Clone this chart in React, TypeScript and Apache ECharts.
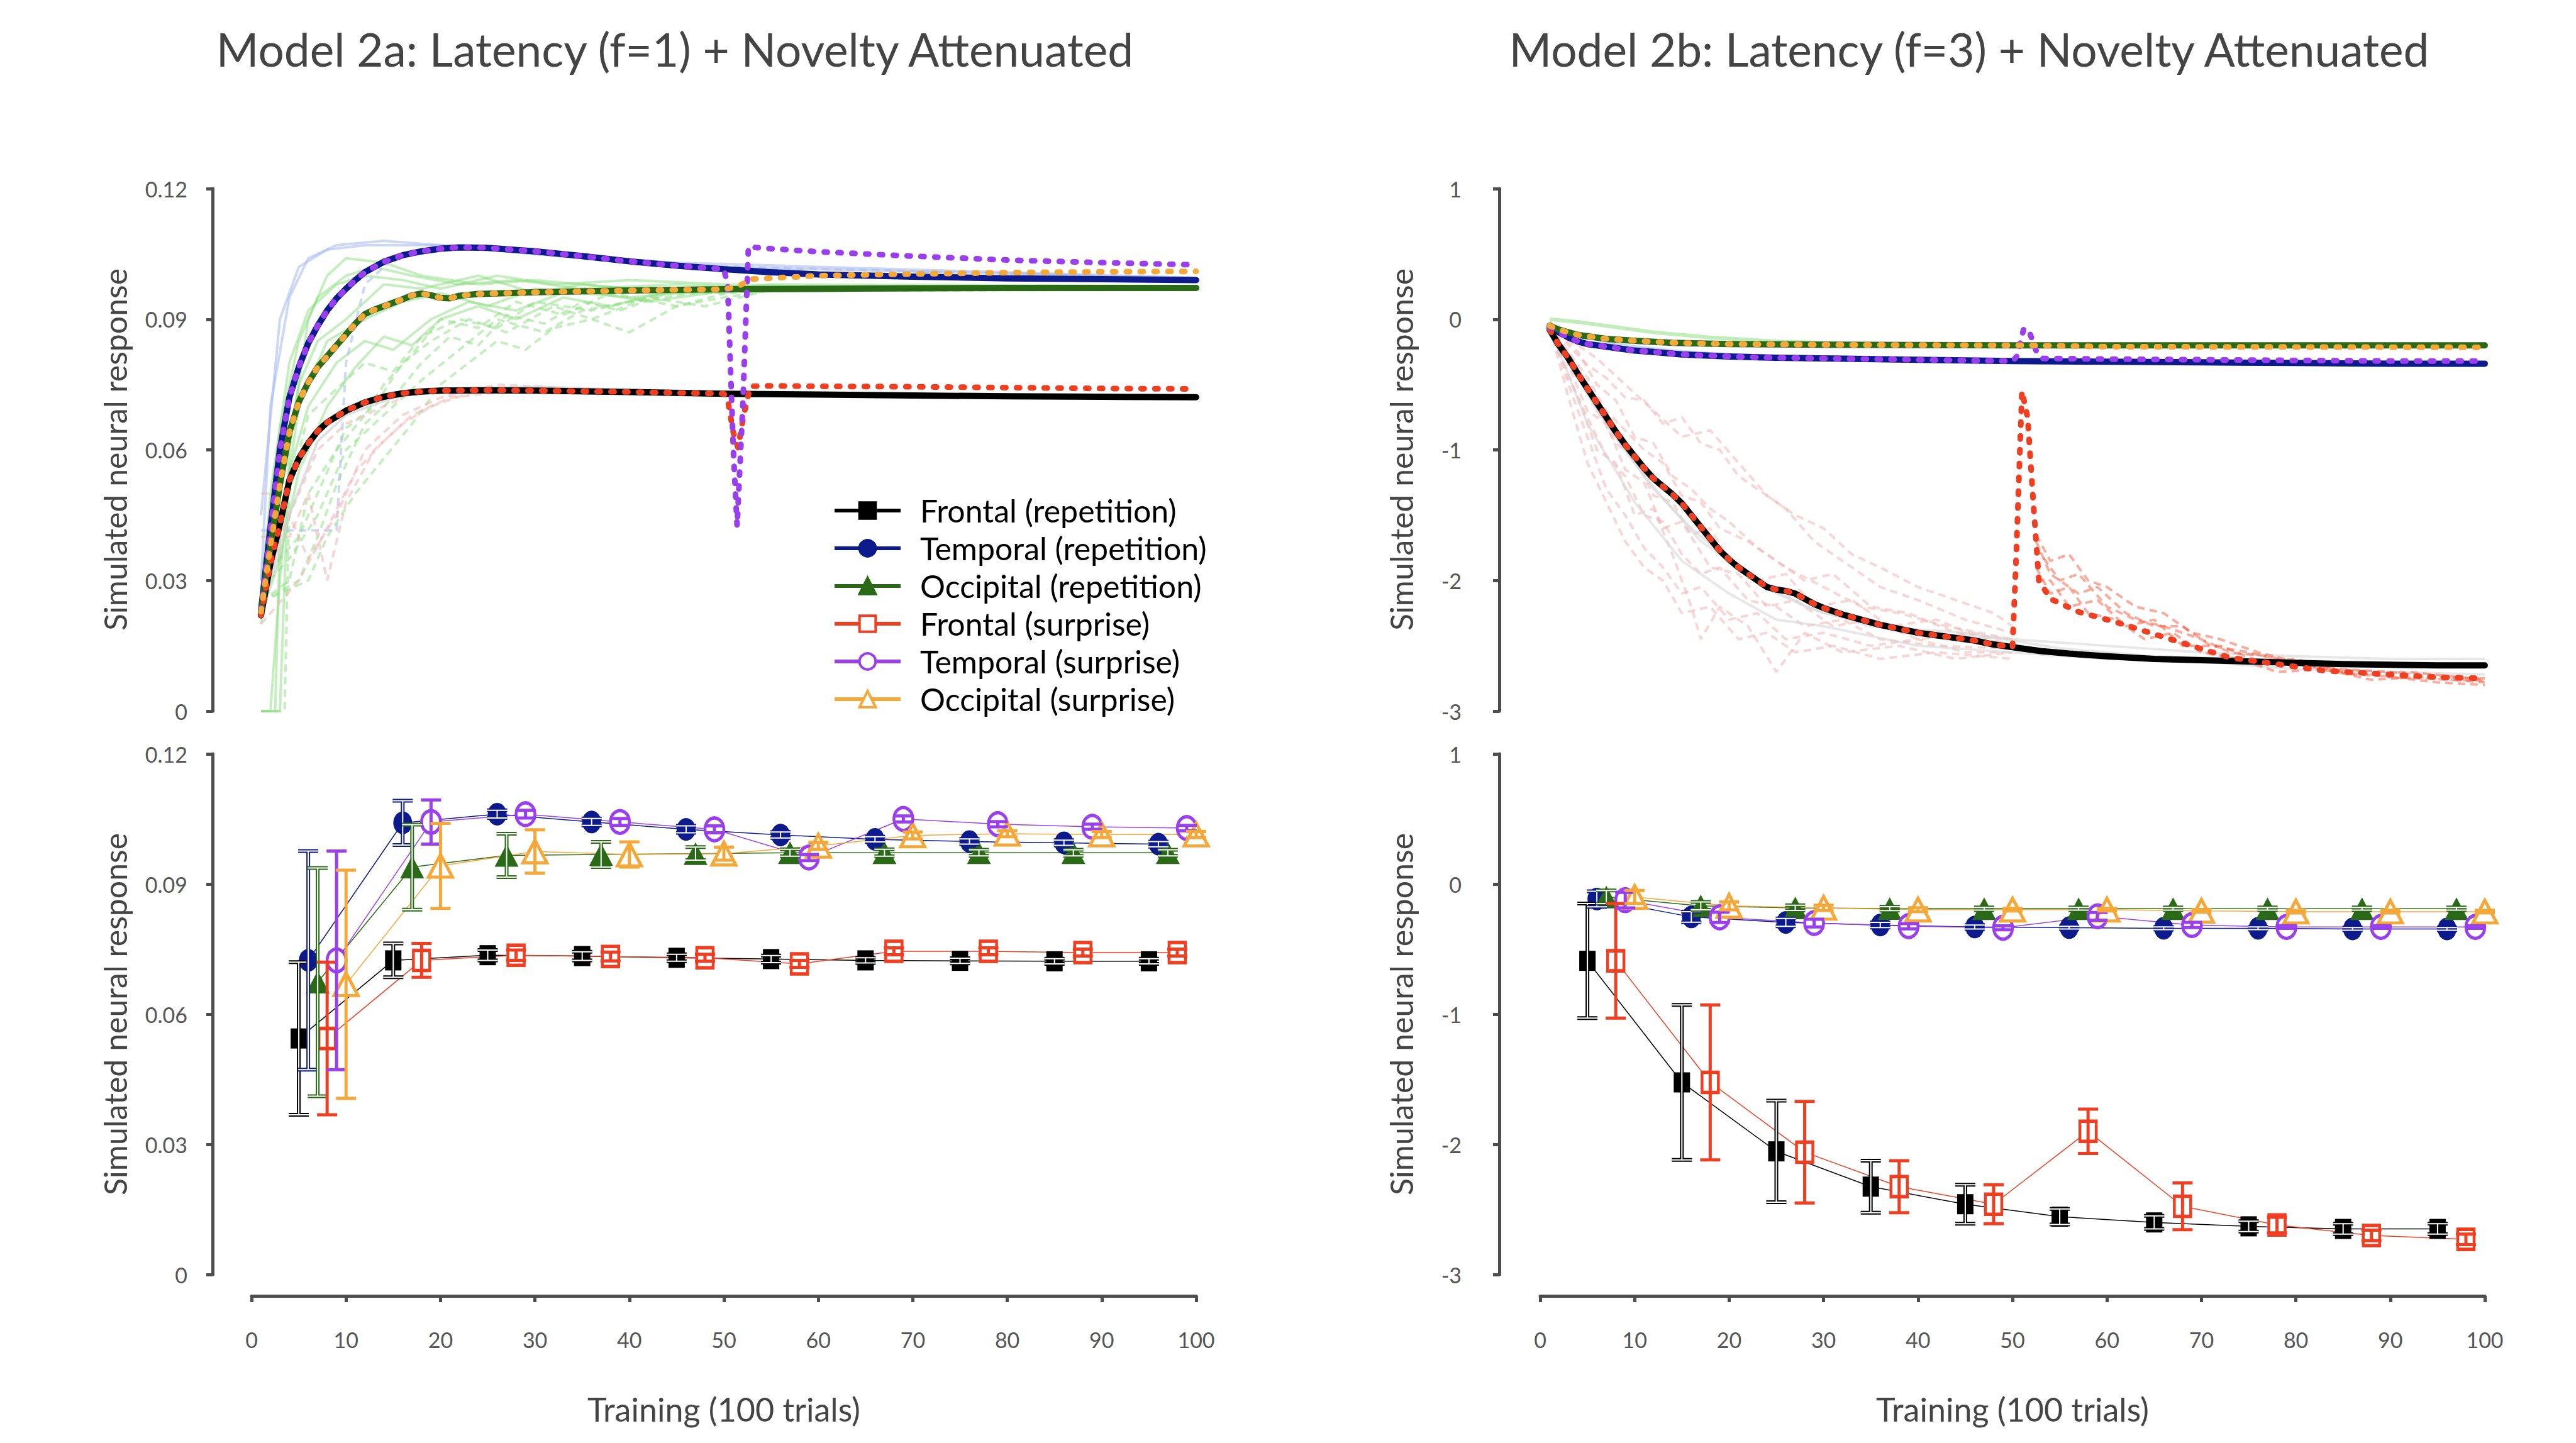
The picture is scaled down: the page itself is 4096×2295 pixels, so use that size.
import React, { useEffect, useRef } from "react";
import * as echarts from "echarts";

const FONT = "Lato";
const AXIS_COLOR = "#4d4d4d";
const LABEL_COLOR = "#555555";

const COL_FRONTAL = "#000000";
const COL_TEMPORAL = "#0c1a8c";
const COL_OCCIPITAL = "#2a6a16";
const COL_FRONTAL_S = "#ef3f22";
const COL_TEMPORAL_S = "#9a3fee";
const COL_OCCIPITAL_S = "#f4a83a";

const LEGEND_NAMES = [
  "Frontal (repetition)",
  "Temporal (repetition)",
  "Occipital (repetition)",
  "Frontal (surprise)",
  "Temporal (surprise)",
  "Occipital (surprise)",
];

const TITLE_A = "Model 2a: Latency (f=1) + Novelty Attenuated";
const TITLE_B = "Model 2b: Latency (f=3) + Novelty Attenuated";
const Y_NAME = "Simulated neural response";
const X_NAME = "Training (100 trials)";

// ---------- Top-left (Model 2a) mean trajectories ----------
const tlFrontalRep = [[1,0.022],[2,0.034],[3,0.043],[4,0.053],[5,0.058],[6,0.0615],[7,0.0643],[8,0.0663],[10,0.069],[12,0.0709],[14,0.0722],[16,0.073],[18,0.0734],[20,0.0736],[25,0.0737],[30,0.0736],[40,0.0733],[50,0.0729],[60,0.0727],[70,0.0725],[80,0.0723],[90,0.0722],[100,0.0721]];
const tlFrontalSurAfter = [[50.4,0.0715],[51,0.064],[51.5,0.0605],[52.1,0.068],[52.8,0.0746],[55,0.0747],[60,0.0746],[70,0.0745],[80,0.0743],[90,0.0741],[100,0.074]];
const tlTemporalRep = [[1,0.023],[2,0.042],[3,0.06],[4,0.072],[5,0.079],[6,0.0845],[7,0.0885],[8,0.092],[9,0.0948],[10,0.097],[11,0.099],[12,0.1008],[14,0.1032],[16,0.1047],[18,0.1056],[20,0.1062],[22,0.1065],[25,0.1064],[30,0.1056],[35,0.1045],[40,0.1033],[45,0.1023],[50,0.1015],[55,0.1008],[60,0.1003],[70,0.0998],[80,0.0994],[90,0.0992],[100,0.099]];
const tlTemporalSurAfter = [[50.4,0.098],[51,0.06],[51.4,0.0425],[52,0.07],[52.6,0.1066],[55,0.1062],[60,0.1055],[70,0.1045],[80,0.1036],[90,0.103],[100,0.1025]];
const tlOccipitalRep = [[1,0.0228],[2,0.038],[3,0.052],[4,0.064],[5,0.071],[6,0.0755],[7,0.079],[8,0.0815],[9,0.084],[10,0.0865],[11,0.089],[12,0.0912],[13,0.0922],[14,0.093],[15,0.0938],[16,0.0946],[17,0.0955],[18,0.0959],[19,0.0955],[20,0.0949],[21,0.0948],[22,0.0954],[24,0.0958],[27,0.096],[30,0.0962],[40,0.0966],[50,0.0969],[60,0.097],[70,0.0971],[80,0.0972],[100,0.0972]];
const tlOccipitalSurAfter = [[51.5,0.0975],[52.8,0.0992],[60,0.1],[70,0.1004],[80,0.1007],[90,0.1009],[100,0.101]];

// faint individual runs (2a)
const tlGreen1 = [[1,0],[2.5,0],[3,0.04],[5,0.07],[8,0.085],[12,0.09],[16,0.094],[20,0.096],[25,0.093],[30,0.097],[40,0.095],[50,0.097],[60,0.0965],[80,0.097],[100,0.0968]];
const tlGreen2 = [[1,0.025],[4,0.03],[6,0.05],[9,0.06],[12,0.068],[14,0.075],[17,0.082],[20,0.09],[24,0.088],[28,0.094],[33,0.091],[38,0.096],[45,0.093],[52,0.097],[70,0.0975],[100,0.0972]];
const tlGreen3 = [[1,0],[3,0],[4,0.06],[6,0.09],[8,0.1],[10,0.104],[14,0.103],[18,0.1],[24,0.098],[30,0.099],[40,0.097],[52,0.097],[100,0.097]];
const tlGreen4 = [[1,0.03],[5,0.04],[8,0.055],[10,0.065],[13,0.07],[16,0.08],[19,0.085],[23,0.09],[27,0.087],[32,0.093],[36,0.09],[42,0.095],[48,0.093],[55,0.0968],[100,0.0975]];
const tlGreen5 = [[1,0.02],[3,0.05],[5,0.075],[7,0.085],[10,0.09],[14,0.098],[18,0.097],[24,0.1],[30,0.096],[35,0.098],[45,0.096],[55,0.098],[100,0.0976]];
const tlGreen6 = [[1,0.028],[4,0.035],[7,0.045],[10,0.06],[12,0.064],[15,0.07],[18,0.076],[22,0.083],[26,0.09],[31,0.087],[35,0.092],[40,0.094],[47,0.096],[55,0.0965],[100,0.0968]];
const tlGreen7 = [[1,0.0],[2,0.0],[3,0.03],[4,0.055],[6,0.07],[9,0.08],[12,0.085],[15,0.083],[19,0.09],[23,0.094],[28,0.092],[34,0.097],[42,0.094],[50,0.0965],[100,0.097]];
const tlGreen8 = [[1,0],[3.5,0],[4,0.05],[6,0.068],[9,0.074],[12,0.08],[15,0.078],[18,0.086],[22,0.09],[26,0.088],[30,0.094],[36,0.092],[44,0.096],[52,0.0965],[100,0.097]];
const tlGreen9 = [[1,0.03],[3,0.065],[5,0.085],[7,0.095],[10,0.1],[13,0.102],[17,0.1],[22,0.098],[28,0.099],[35,0.097],[45,0.098],[55,0.0972],[100,0.0974]];
const tlGreen10 = [[1,0.025],[6,0.03],[8,0.04],[11,0.05],[14,0.058],[17,0.066],[20,0.075],[23,0.08],[26,0.085],[29,0.083],[32,0.088],[36,0.09],[40,0.087],[45,0.093],[50,0.095],[56,0.097],[100,0.0972]];
const tlGreen11 = [[1,0.022],[2,0.05],[4,0.08],[6,0.092],[9,0.098],[12,0.1],[16,0.099],[20,0.097],[26,0.1],[32,0.098],[40,0.099],[50,0.098],[60,0.0975],[100,0.0973]];
const tlGreen12 = [[1,0.025],[5,0.03],[7,0.04],[9,0.052],[12,0.066],[15,0.072],[18,0.08],[21,0.086],[24,0.084],[27,0.091],[31,0.089],[35,0.094],[39,0.092],[44,0.096],[50,0.096],[58,0.097],[100,0.0971]];
const tlGreen13 = [[1,0.022],[3,0.035],[5,0.055],[8,0.07],[11,0.079],[14,0.086],[17,0.084],[20,0.09],[24,0.093],[28,0.09],[33,0.095],[38,0.093],[45,0.097],[55,0.097],[100,0.097]];
const tlBlue1 = [[1,0.045],[3,0.09],[5,0.102],[8,0.106],[12,0.107],[20,0.107],[30,0.105],[50,0.102],[100,0.0995]];
const tlBlue2 = [[1,0.0415],[9,0.0415],[10,0.08],[12,0.098],[15,0.104],[20,0.106],[25,0.106],[40,0.103],[52,0.102],[100,0.0995]];
const tlBlue3 = [[1,0.03],[2,0.07],[4,0.095],[6,0.104],[9,0.107],[14,0.108],[20,0.107],[30,0.105],[45,0.103],[100,0.0995]];
const tlPink1 = [[1,0.022],[3,0.04],[5,0.05],[7,0.06],[10,0.066],[14,0.07],[18,0.074],[25,0.074],[50,0.073],[100,0.0725]];
const tlPink2 = [[1,0.05],[3,0.05],[6,0.035],[9,0.045],[12,0.06],[16,0.068],[20,0.072],[26,0.075],[35,0.074],[50,0.073]];
const tlPink3 = [[1,0.02],[5,0.03],[8,0.042],[11,0.055],[14,0.062],[17,0.068],[21,0.072],[25,0.073],[35,0.074],[50,0.073]];
const tlPink4 = [[1,0.04],[4,0.04],[6,0.05],[8,0.03],[10,0.048],[13,0.06],[16,0.066],[19,0.07],[23,0.073],[30,0.074],[50,0.073]];
const tlGray1 = [[1,0.022],[4,0.045],[7,0.062],[10,0.068],[15,0.072],[20,0.074],[30,0.0745],[50,0.073],[100,0.0722]];

// ---------- Top-right (Model 2b) mean trajectories ----------
const trFrontalRep = [[1,-0.08],[2,-0.2],[3,-0.3],[4,-0.42],[5,-0.53],[6,-0.64],[7,-0.75],[8,-0.86],[9,-0.96],[10,-1.05],[11,-1.14],[12,-1.22],[13,-1.28],[14,-1.34],[15,-1.41],[16,-1.5],[17,-1.59],[18,-1.68],[19,-1.77],[20,-1.84],[21,-1.9],[22,-1.95],[23,-2.0],[24,-2.05],[25,-2.07],[26,-2.08],[27,-2.1],[28,-2.14],[29,-2.18],[30,-2.21],[32,-2.26],[34,-2.3],[36,-2.34],[38,-2.37],[40,-2.4],[42,-2.42],[44,-2.44],[46,-2.46],[48,-2.49],[50,-2.51],[53,-2.54],[56,-2.56],[60,-2.58],[65,-2.6],[70,-2.61],[75,-2.62],[80,-2.63],[85,-2.64],[90,-2.645],[95,-2.65],[100,-2.65]];
const trFrontalSurAfter = [[50.4,-1.8],[51,-0.55],[51.6,-0.75],[52.2,-1.4],[52.8,-2.0],[54,-2.14],[57,-2.24],[61,-2.32],[65,-2.41],[68.5,-2.49],[73,-2.59],[79,-2.65],[83,-2.69],[90,-2.72],[95,-2.74],[100,-2.75]];
const trTemporalRep = [[1,-0.06],[2,-0.1],[3,-0.14],[4,-0.17],[5,-0.19],[6,-0.2],[8,-0.22],[10,-0.24],[12,-0.25],[15,-0.27],[20,-0.285],[25,-0.295],[30,-0.3],[40,-0.31],[50,-0.32],[60,-0.325],[70,-0.33],[80,-0.335],[90,-0.34],[100,-0.34]];
const trTemporalSurAfter = [[50.5,-0.28],[51.2,-0.07],[51.8,-0.1],[52.5,-0.24],[53.2,-0.3],[60,-0.305],[70,-0.31],[80,-0.315],[90,-0.32],[100,-0.32]];
const trOccipitalRep = [[1,-0.05],[2,-0.08],[3,-0.1],[4,-0.12],[5,-0.13],[7,-0.15],[10,-0.165],[14,-0.18],[20,-0.19],[30,-0.195],[50,-0.2],[70,-0.2],[100,-0.2]];
const trOccipitalSurAfter = [[52,-0.2],[60,-0.21],[100,-0.215]];

// faint individual runs (2b)
const trPink1 = [[1,-0.02],[3,-0.2],[5,-0.35],[7,-0.45],[9,-0.6],[11,-0.62],[13,-0.8],[15,-0.75],[17,-0.95],[19,-1.0],[21,-1.2],[23,-1.3],[26,-1.45],[29,-1.7],[32,-1.85],[36,-2.05],[40,-2.15],[45,-2.3],[50,-2.4]];
const trPink2 = [[1,-0.05],[3,-0.5],[5,-0.9],[7,-1.3],[9,-1.5],[11,-1.75],[13,-1.9],[15,-2.1],[17,-2.05],[20,-2.3],[23,-2.25],[26,-2.45],[30,-2.4],[35,-2.5],[40,-2.45],[45,-2.55],[50,-2.55]];
const trPink3 = [[1,-0.03],[3,-0.3],[5,-0.55],[8,-0.95],[10,-1.05],[12,-1.35],[14,-1.4],[16,-1.65],[18,-1.6],[20,-1.85],[23,-2.0],[26,-1.95],[29,-2.2],[33,-2.15],[37,-2.35],[42,-2.3],[47,-2.45],[50,-2.5]];
const trPink4 = [[1,-0.06],[4,-0.6],[6,-1.0],[8,-1.1],[10,-1.5],[12,-1.45],[14,-1.8],[16,-2.2],[17,-2.45],[19,-2.2],[22,-2.35],[25,-2.7],[28,-2.4],[32,-2.55],[38,-2.5],[44,-2.6],[50,-2.55]];
const trPink5 = [[1,-0.02],[3,-0.15],[6,-0.3],[9,-0.5],[12,-0.7],[15,-0.9],[18,-0.85],[21,-1.1],[24,-1.35],[27,-1.5],[30,-1.6],[33,-1.8],[36,-1.9],[40,-2.05],[44,-2.15],[48,-2.25],[50,-2.35]];
const trPink6 = [[1,-0.04],[3,-0.35],[5,-0.7],[7,-0.8],[9,-1.15],[11,-1.25],[13,-1.6],[15,-1.55],[18,-1.9],[21,-1.95],[24,-2.2],[27,-2.15],[31,-2.35],[35,-2.3],[40,-2.45],[46,-2.4],[50,-2.5]];
const trPink7 = [[1,-0.02],[2,-0.1],[4,-0.25],[6,-0.5],[8,-0.62],[10,-0.9],[12,-0.95],[14,-1.2],[16,-1.3],[18,-1.45],[20,-1.55],[23,-1.75],[26,-1.9],[30,-2.05],[34,-2.2],[38,-2.25],[43,-2.35],[50,-2.45]];
const trPink8 = [[1,-0.05],[3,-0.45],[5,-0.75],[7,-1.05],[9,-1.2],[11,-1.5],[13,-1.55],[15,-1.8],[17,-1.95],[19,-1.9],[22,-2.15],[25,-2.2],[28,-2.35],[32,-2.3],[36,-2.45],[42,-2.5],[50,-2.52]];
const trPink9 = [[1,-0.03],[3,-0.25],[5,-0.45],[7,-0.7],[9,-0.85],[11,-1.0],[13,-1.1],[15,-1.35],[17,-1.4],[19,-1.6],[22,-1.7],[25,-1.85],[28,-2.0],[31,-1.95],[35,-2.2],[39,-2.25],[44,-2.4],[50,-2.45]];
const trPink10 = [[1,-0.06],[3,-0.6],[5,-1.1],[7,-1.4],[9,-1.7],[11,-1.9],[13,-2.0],[15,-2.25],[18,-2.2],[21,-2.45],[24,-2.4],[27,-2.55],[31,-2.5],[36,-2.6],[42,-2.55],[50,-2.6]];
const trGray1 = [[1,-0.05],[4,-0.45],[8,-0.9],[12,-1.3],[16,-1.6],[20,-1.85],[25,-2.1],[30,-2.25],[35,-2.3],[40,-2.4],[50,-2.45],[60,-2.5],[70,-2.55],[80,-2.58],[90,-2.6],[100,-2.6]];
const trGray2 = [[1,-0.05],[5,-0.8],[10,-1.4],[15,-1.85],[20,-2.1],[25,-2.3],[30,-2.35],[40,-2.5],[50,-2.55],[60,-2.6],[70,-2.62],[80,-2.68],[90,-2.7],[100,-2.72]];
const trGray3 = [[1,-0.05],[6,-0.7],[11,-1.2],[17,-1.7],[22,-1.95],[28,-2.2],[35,-2.35],[45,-2.4],[55,-2.52],[65,-2.58],[75,-2.6],[85,-2.62],[100,-2.64]];
const trRed1 = [[52.5,-1.65],[54,-1.85],[56,-1.8],[58,-2.0],[60,-2.05],[63,-2.2],[66,-2.25],[69,-2.4],[72,-2.45],[76,-2.55],[80,-2.62],[85,-2.68],[90,-2.7],[95,-2.74],[100,-2.75]];
const trRed2 = [[52.5,-1.9],[54,-2.1],[56,-2.05],[58,-2.25],[61,-2.3],[64,-2.45],[67,-2.4],[70,-2.55],[74,-2.6],[78,-2.7],[83,-2.68],[88,-2.76],[93,-2.74],[100,-2.78]];
const trRed3 = [[52.5,-2.0],[54,-2.0],[56,-2.2],[59,-2.15],[62,-2.35],[65,-2.3],[68,-2.5],[72,-2.5],[76,-2.62],[80,-2.6],[86,-2.72],[92,-2.7],[100,-2.76]];
const trRed4 = [[52.5,-1.75],[55,-2.0],[57,-1.95],[60,-2.2],[63,-2.3],[66,-2.35],[70,-2.45],[73,-2.55],[77,-2.58],[82,-2.66],[88,-2.72],[95,-2.78],[100,-2.8]];
const trRed5 = [[52.5,-1.7],[54,-1.95],[57,-2.1],[59,-2.05],[62,-2.25],[65,-2.35],[68,-2.35],[71,-2.5],[75,-2.55],[79,-2.62],[84,-2.7],[90,-2.74],[100,-2.77]];
const trGreen1 = [[1,0.0],[4,-0.02],[8,-0.06],[12,-0.1],[18,-0.14],[25,-0.17],[35,-0.19],[50,-0.2],[100,-0.2]];
const trBlue1 = [[1,-0.04],[4,-0.12],[8,-0.19],[14,-0.24],[20,-0.27],[30,-0.29],[50,-0.31],[100,-0.33]];

// ---------- Bottom-left (2a) binned means ± error ----------
const blFrontalRepX = [5,15,25,35,45,55,65,75,85,95];
const blFrontalRep = [0.0544,0.0724,0.0736,0.0734,0.073,0.0727,0.0724,0.0723,0.0722,0.0722];
const blFrontalRepErr = [0.0176,0.0039,0.0012,0.001,0.0008,0.0008,0.0006,0.0006,0.0006,0.0006];
const blTemporalRepX = [6,16,26,36,46,56,66,76,86,96];
const blTemporalRep = [0.0724,0.1041,0.1061,0.1043,0.1026,0.1013,0.1003,0.0998,0.0995,0.0992];
const blTemporalRepErr = [0.0252,0.0051,0.0009,0.0008,0.0008,0.0007,0.0006,0.0006,0.0006,0.0006];
const blOccipitalRepX = [7,17,27,37,47,57,67,77,87,97];
const blOccipitalRep = [0.0674,0.0939,0.0966,0.0968,0.097,0.0972,0.0972,0.0972,0.0972,0.0972];
const blOccipitalRepErr = [0.0263,0.0098,0.005,0.0029,0.0015,0.0008,0.0008,0.0007,0.0007,0.0007];
const blFrontalSurX = [8,18,28,38,48,58,68,78,88,98];
const blFrontalSur = [0.0544,0.0724,0.0736,0.0733,0.073,0.0716,0.0745,0.0745,0.0742,0.0742];
const blFrontalSurErr = [0.0176,0.0039,0.0012,0.001,0.0008,0.0008,0.0008,0.0008,0.0008,0.0008];
const blTemporalSurX = [9,19,29,39,49,59,69,79,89,99];
const blTemporalSur = [0.0724,0.1043,0.1061,0.1043,0.1026,0.0961,0.105,0.1038,0.1032,0.1029];
const blTemporalSurErr = [0.0252,0.0051,0.0009,0.0008,0.0008,0.0007,0.0007,0.0006,0.0006,0.0006];
const blOccipitalSurX = [10,20,30,40,50,60,70,80,90,100];
const blOccipitalSur = [0.0669,0.0942,0.0975,0.0968,0.097,0.0988,0.1012,0.1016,0.1014,0.1014];
const blOccipitalSurErr = [0.0263,0.0098,0.005,0.0029,0.0015,0.0008,0.0008,0.0007,0.0007,0.0007];

// ---------- Bottom-right (2b) binned means ± error ----------
const brFrontalRepX = [5,15,25,35,45,55,65,75,85,95];
const brFrontalRep = [-0.59,-1.524,-2.054,-2.325,-2.46,-2.556,-2.6,-2.63,-2.65,-2.65];
const brFrontalRepErr = [0.44,0.595,0.39,0.2,0.15,0.06,0.05,0.04,0.04,0.04];
const brTemporalRepX = [6,16,26,36,46,56,66,76,86,96];
const brTemporalRep = [-0.115,-0.253,-0.295,-0.315,-0.33,-0.335,-0.34,-0.34,-0.345,-0.345];
const brTemporalRepErr = [0.06,0.04,0.03,0.02,0.015,0.01,0.01,0.01,0.01,0.01];
const brOccipitalRepX = [7,17,27,37,47,57,67,77,87,97];
const brOccipitalRep = [-0.1,-0.168,-0.183,-0.189,-0.19,-0.19,-0.19,-0.19,-0.19,-0.19];
const brOccipitalRepErr = [0.05,0.03,0.02,0.015,0.01,0.01,0.01,0.01,0.01,0.01];
const brFrontalSurX = [8,18,28,38,48,58,68,78,88,98];
const brFrontalSur = [-0.59,-1.524,-2.06,-2.325,-2.46,-1.9,-2.476,-2.62,-2.7,-2.73];
const brFrontalSurErr = [0.44,0.595,0.39,0.2,0.15,0.17,0.18,0.06,0.04,0.04];
const brTemporalSurX = [9,19,29,39,49,59,69,79,89,99];
const brTemporalSur = [-0.124,-0.256,-0.3,-0.324,-0.336,-0.248,-0.315,-0.33,-0.33,-0.33];
const brTemporalSurErr = [0.06,0.04,0.03,0.02,0.015,0.03,0.02,0.01,0.01,0.01];
const brOccipitalSurX = [10,20,30,40,50,60,70,80,90,100];
const brOccipitalSur = [-0.1,-0.168,-0.183,-0.197,-0.197,-0.197,-0.206,-0.212,-0.212,-0.212];
const brOccipitalSurErr = [0.05,0.03,0.02,0.015,0.01,0.01,0.01,0.01,0.01,0.01];

// ---------- axes ----------
const X_MIN = 0, X_MAX = 100, X_STEP = 10;
const YA_MIN = 0, YA_MAX = 0.12, YA_STEP = 0.03;
const YB_MIN = -3, YB_MAX = 1, YB_STEP = 1;

// ---------- helpers ----------
const pairs = (xs: number[], ys: number[]) => xs.map((x, i) => [x, ys[i]]);
const joinAfter = (base: number[][], after: number[][]) =>
  base.filter((p) => p[0] < after[0][0]).concat(after);

function meanLine(name: string, data: number[][], idx: number, color: string, dotted: boolean) {
  return {
    type: "line", name, xAxisIndex: idx, yAxisIndex: idx, data,
    symbol: "none", silent: true, z: dotted ? 6 : 5,
    lineStyle: { color, width: dotted ? 9 : 10, type: dotted ? [5, 17] : "solid", cap: "round", join: "round" },
  };
}
function faint(data: number[][], idx: number, color: string, dashed: boolean, width = 4) {
  return {
    type: "line", data, xAxisIndex: idx, yAxisIndex: idx, symbol: "none", silent: true, z: 1,
    lineStyle: { color, width, type: dashed ? [12, 8] : "solid" },
  };
}
function points(name: string, xs: number[], ys: number[], idx: number, color: string, symbol: string, size: number[], hollow: boolean) {
  return {
    type: "line", name, xAxisIndex: idx, yAxisIndex: idx, data: pairs(xs, ys),
    symbol, symbolSize: size, showSymbol: true, z: 3, silent: true,
    lineStyle: { color, width: 1.5 },
    itemStyle: hollow
      ? { color: "#ffffff", borderColor: color, borderWidth: 5 }
      : { color, borderColor: color, borderWidth: 0 },
  };
}
function errorBars(xs: number[], ys: number[], es: number[], idx: number, color: string, outlined: boolean) {
  const data = xs.map((x, i) => [x, ys[i] - es[i], ys[i] + es[i]]);
  return {
    type: "custom", xAxisIndex: idx, yAxisIndex: idx, data, z: 4, silent: true,
    encode: { x: 0, y: [1, 2] },
    renderItem: (params: any, api: any) => {
      const x = api.value(0);
      const p1 = api.coord([x, api.value(2)]);
      const p2 = api.coord([x, api.value(1)]);
      const w = 16;
      const segs = [
        [p1[0], p1[1], p2[0], p2[1]],
        [p1[0] - w, p1[1], p1[0] + w, p1[1]],
        [p2[0] - w, p2[1], p2[0] + w, p2[1]],
      ];
      const children: any[] = segs.map((s) => ({
        type: "line", shape: { x1: s[0], y1: s[1], x2: s[2], y2: s[3] },
        style: { stroke: color, lineWidth: outlined ? 6 : 5, lineCap: "butt" },
      }));
      if (outlined) {
        segs.forEach((s) => children.push({
          type: "line", shape: { x1: s[0], y1: s[1], x2: s[2], y2: s[3] },
          style: { stroke: "#ffffff", lineWidth: 2, lineCap: "butt" },
        }));
      }
      return { type: "group", children };
    },
  };
}

const axisLine = { show: true, onZero: false, lineStyle: { color: AXIS_COLOR, width: 5 } };
const axisTick = { show: true, length: 10, lineStyle: { color: AXIS_COLOR, width: 5 } };

function xAxisBottom(idx: number) {
  return {
    type: "value", gridIndex: idx, min: X_MIN, max: X_MAX, interval: X_STEP, offset: 34,
    axisLine, axisTick, splitLine: { show: false },
    axisLabel: { fontFamily: FONT, fontSize: 34, color: LABEL_COLOR, margin: 52 },
  };
}
function xAxisHidden(idx: number) {
  return { type: "value", gridIndex: idx, min: X_MIN, max: X_MAX, show: false, splitLine: { show: false }, axisLine: { onZero: false } };
}
function yAxis(idx: number, min: number, max: number, step: number, offset: number, margin: number) {
  return {
    type: "value", gridIndex: idx, min, max, interval: step, offset,
    axisLine, axisTick, splitLine: { show: false },
    axisLabel: { fontFamily: FONT, fontSize: 34, color: LABEL_COLOR, margin },
  };
}

const SQ = [26, 32], CI = [30, 36], TR = [38, 36];

function buildOption() {
  const series: any[] = [
    // bottom-left points first (legend reads from these)
    points(LEGEND_NAMES[0], blFrontalRepX, blFrontalRep, 1, COL_FRONTAL, "rect", SQ, false),
    points(LEGEND_NAMES[1], blTemporalRepX, blTemporalRep, 1, COL_TEMPORAL, "circle", CI, false),
    points(LEGEND_NAMES[2], blOccipitalRepX, blOccipitalRep, 1, COL_OCCIPITAL, "triangle", TR, false),
    points(LEGEND_NAMES[3], blFrontalSurX, blFrontalSur, 1, COL_FRONTAL_S, "rect", SQ, true),
    points(LEGEND_NAMES[4], blTemporalSurX, blTemporalSur, 1, COL_TEMPORAL_S, "circle", CI, true),
    points(LEGEND_NAMES[5], blOccipitalSurX, blOccipitalSur, 1, COL_OCCIPITAL_S, "triangle", TR, true),
    errorBars(blFrontalRepX, blFrontalRep, blFrontalRepErr, 1, COL_FRONTAL, true),
    errorBars(blTemporalRepX, blTemporalRep, blTemporalRepErr, 1, COL_TEMPORAL, true),
    errorBars(blOccipitalRepX, blOccipitalRep, blOccipitalRepErr, 1, COL_OCCIPITAL, true),
    errorBars(blFrontalSurX, blFrontalSur, blFrontalSurErr, 1, COL_FRONTAL_S, false),
    errorBars(blTemporalSurX, blTemporalSur, blTemporalSurErr, 1, COL_TEMPORAL_S, false),
    errorBars(blOccipitalSurX, blOccipitalSur, blOccipitalSurErr, 1, COL_OCCIPITAL_S, false),

    // bottom-right
    points("2b " + LEGEND_NAMES[0], brFrontalRepX, brFrontalRep, 3, COL_FRONTAL, "rect", SQ, false),
    points("2b " + LEGEND_NAMES[1], brTemporalRepX, brTemporalRep, 3, COL_TEMPORAL, "circle", CI, false),
    points("2b " + LEGEND_NAMES[2], brOccipitalRepX, brOccipitalRep, 3, COL_OCCIPITAL, "triangle", TR, false),
    points("2b " + LEGEND_NAMES[3], brFrontalSurX, brFrontalSur, 3, COL_FRONTAL_S, "rect", SQ, true),
    points("2b " + LEGEND_NAMES[4], brTemporalSurX, brTemporalSur, 3, COL_TEMPORAL_S, "circle", CI, true),
    points("2b " + LEGEND_NAMES[5], brOccipitalSurX, brOccipitalSur, 3, COL_OCCIPITAL_S, "triangle", TR, true),
    errorBars(brFrontalRepX, brFrontalRep, brFrontalRepErr, 3, COL_FRONTAL, true),
    errorBars(brTemporalRepX, brTemporalRep, brTemporalRepErr, 3, COL_TEMPORAL, true),
    errorBars(brOccipitalRepX, brOccipitalRep, brOccipitalRepErr, 3, COL_OCCIPITAL, true),
    errorBars(brFrontalSurX, brFrontalSur, brFrontalSurErr, 3, COL_FRONTAL_S, false),
    errorBars(brTemporalSurX, brTemporalSur, brTemporalSurErr, 3, COL_TEMPORAL_S, false),
    errorBars(brOccipitalSurX, brOccipitalSur, brOccipitalSurErr, 3, COL_OCCIPITAL_S, false),
  ];

  // top-left faint runs
  const G = "rgba(140,222,128,0.5)";
  [tlGreen1, tlGreen2, tlGreen3, tlGreen4, tlGreen5, tlGreen6, tlGreen7, tlGreen8, tlGreen9, tlGreen10, tlGreen11, tlGreen12, tlGreen13]
    .forEach((d, i) => series.push(faint(d, 0, G, i % 2 === 1)));
  [tlBlue1, tlBlue2, tlBlue3].forEach((d, i) => series.push(faint(d, 0, "rgba(170,190,240,0.6)", i === 1)));
  [tlPink1, tlPink2, tlPink3, tlPink4].forEach((d) => series.push(faint(d, 0, "rgba(240,185,185,0.6)", true)));
  series.push(faint(tlGray1, 0, "rgba(210,210,210,0.7)", false));

  // top-right faint runs
  [trPink1, trPink2, trPink3, trPink4, trPink5, trPink6, trPink7, trPink8, trPink9, trPink10].forEach((d) =>
    series.push(faint(d, 2, "rgba(240,180,180,0.55)", true)));
  [trGray1, trGray2, trGray3].forEach((d) => series.push(faint(d, 2, "rgba(215,215,215,0.6)", false)));
  [trRed1, trRed2, trRed3, trRed4, trRed5].forEach((d) => series.push(faint(d, 2, "rgba(240,70,40,0.45)", true)));
  series.push(faint(trGreen1, 2, "rgba(150,225,140,0.6)", false, 6));
  series.push(faint(trBlue1, 2, "rgba(170,190,240,0.6)", false, 4));

  // top-left means
  series.push(meanLine("2a mean frontal rep", tlFrontalRep, 0, COL_FRONTAL, false));
  series.push(meanLine("2a mean temporal rep", tlTemporalRep, 0, COL_TEMPORAL, false));
  series.push(meanLine("2a mean occipital rep", tlOccipitalRep, 0, COL_OCCIPITAL, false));
  series.push(meanLine("2a mean frontal sur", joinAfter(tlFrontalRep, tlFrontalSurAfter), 0, COL_FRONTAL_S, true));
  series.push(meanLine("2a mean temporal sur", joinAfter(tlTemporalRep, tlTemporalSurAfter), 0, COL_TEMPORAL_S, true));
  series.push(meanLine("2a mean occipital sur", joinAfter(tlOccipitalRep, tlOccipitalSurAfter), 0, COL_OCCIPITAL_S, true));

  // top-right means
  series.push(meanLine("2b mean temporal rep", trTemporalRep, 2, COL_TEMPORAL, false));
  series.push(meanLine("2b mean occipital rep", trOccipitalRep, 2, COL_OCCIPITAL, false));
  series.push(meanLine("2b mean frontal rep", trFrontalRep, 2, COL_FRONTAL, false));
  series.push(meanLine("2b mean frontal sur", joinAfter(trFrontalRep, trFrontalSurAfter), 2, COL_FRONTAL_S, true));
  series.push(meanLine("2b mean temporal sur", joinAfter(trTemporalRep, trTemporalSurAfter), 2, COL_TEMPORAL_S, true));
  series.push(meanLine("2b mean occipital sur", joinAfter(trOccipitalRep, trOccipitalSurAfter), 2, COL_OCCIPITAL_S, true));

  const text = (t: string, x: number, y: number, size: number, color: string, rot = 0) => ({
    type: "text", x, y, rotation: rot, silent: true,
    style: { text: t, fontFamily: FONT, fontSize: size, fill: color, align: "center", verticalAlign: "middle" },
  });

  return {
    animation: false,
    backgroundColor: "#ffffff",
    grid: [
      { left: 400, top: 300, width: 1502, height: 831 },
      { left: 400, top: 1199, width: 1502, height: 828 },
      { left: 2449, top: 300, width: 1502, height: 831 },
      { left: 2449, top: 1199, width: 1502, height: 828 },
    ],
    xAxis: [xAxisHidden(0), xAxisBottom(1), xAxisHidden(2), xAxisBottom(3)],
    yAxis: [
      yAxis(0, YA_MIN, YA_MAX, YA_STEP, 62, 40),
      yAxis(1, YA_MIN, YA_MAX, YA_STEP, 62, 40),
      yAxis(2, YB_MIN, YB_MAX, YB_STEP, 65, 60),
      yAxis(3, YB_MIN, YB_MAX, YB_STEP, 65, 60),
    ],
    legend: {
      data: LEGEND_NAMES,
      orient: "vertical",
      left: 1319,
      top: 782,
      itemWidth: 105,
      itemHeight: 32,
      itemGap: 10,
      selectedMode: false,
      lineStyle: { width: 6 },
      itemStyle: { borderWidth: 4 },
      textStyle: { fontFamily: FONT, fontSize: 50, color: "#000000", lineHeight: 50, padding: [0, 0, 0, 26] },
    },
    graphic: [
      text(TITLE_A, 1073, 78, 73, "#444444"),
      text(TITLE_B, 3131, 78, 73, "#444444"),
      text(Y_NAME, 183, 715, 50, "#444444", Math.PI / 2),
      text(Y_NAME, 183, 1613, 50, "#444444", Math.PI / 2),
      text(Y_NAME, 2228, 715, 50, "#444444", Math.PI / 2),
      text(Y_NAME, 2228, 1613, 50, "#444444", Math.PI / 2),
      text(X_NAME, 1151, 2241, 52, "#444444"),
      text(X_NAME, 3200, 2241, 52, "#444444"),
    ],
    series,
  };
}

export default function App() {
  const ref = useRef<HTMLDivElement>(null);
  useEffect(() => {
    document.body.style.margin = "0";
    const chart = echarts.init(ref.current as HTMLDivElement, null, { renderer: "svg" });
    chart.setOption(buildOption() as any);
    return () => chart.dispose();
  }, []);
  return <div ref={ref} style={{ width: 4096, height: 2295 }} />;
}
